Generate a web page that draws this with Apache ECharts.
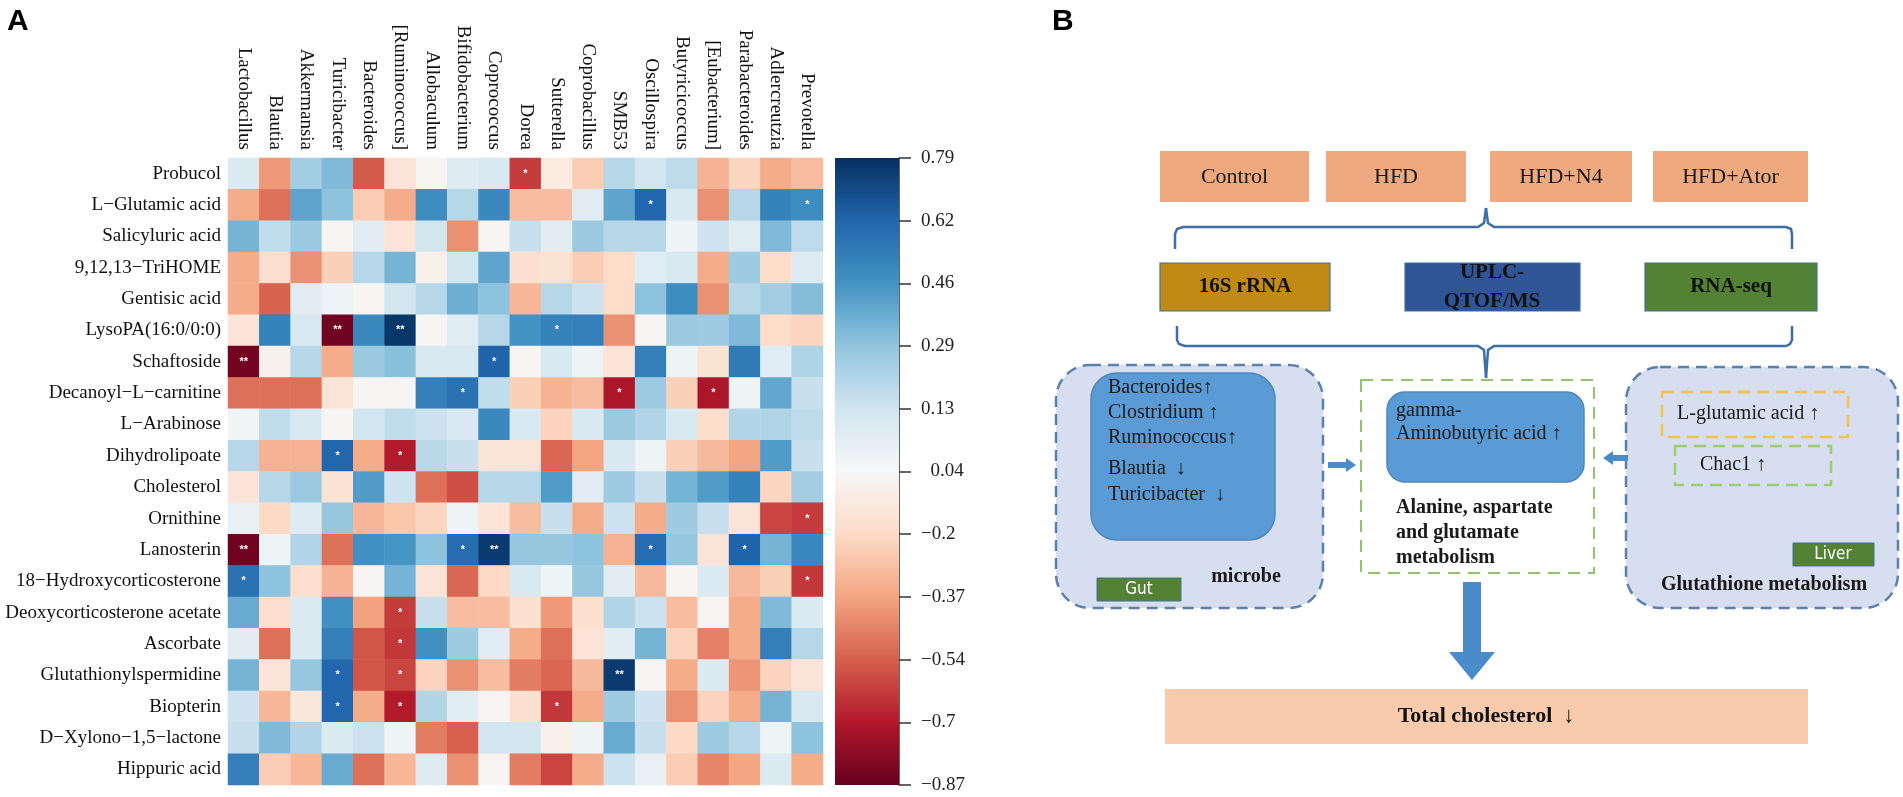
<!DOCTYPE html>
<html><head><meta charset="utf-8">
<script src="https://cdn.jsdelivr.net/npm/echarts@6/dist/echarts.min.js"></script>
<style>html,body{margin:0;padding:0;background:#fff}#c{width:1903px;height:797px}</style>
</head><body><div id="c"></div><script>
// ---------- DATA ----------
const genera = ['Lactobacillus','Blautia','Akkermansia','Turicibacter','Bacteroides','[Ruminococcus]','Allobaculum','Bifidobacterium','Coprococcus','Dorea','Sutterella','Coprobacillus','SMB53','Oscillospira','Butyricicoccus','[Eubacterium]','Parabacteroides','Adlercreutzia','Prevotella'];
const metabolites = ['Probucol','L−Glutamic acid','Salicyluric acid','9,12,13−TriHOME','Gentisic acid','LysoPA(16:0/0:0)','Schaftoside','Decanoyl−L−carnitine','L−Arabinose','Dihydrolipoate','Cholesterol','Ornithine','Lanosterin','18−Hydroxycorticosterone','Deoxycorticosterone acetate','Ascorbate','Glutathionylspermidine','Biopterin','D−Xylono−1,5−lactone','Hippuric acid'];
const corrRows = [
 [0.08,-0.4,0.25,0.33,-0.55,-0.15,-0.05,0.07,0.1,-0.62,-0.12,-0.25,0.2,0.12,0.18,-0.33,-0.22,-0.35,-0.3],
 [-0.35,-0.5,0.4,0.3,-0.25,-0.35,0.48,0.2,0.5,-0.3,-0.3,0.05,0.4,0.62,0.09,-0.42,0.2,0.52,0.48],
 [0.35,0.17,0.27,-0.05,0.05,-0.15,0.12,-0.42,-0.06,0.15,0.05,0.27,0.2,0.2,0.0,0.13,0.06,0.33,0.18],
 [-0.35,-0.18,-0.42,-0.24,0.2,0.35,-0.08,0.12,0.4,-0.17,-0.16,-0.25,-0.2,0.06,0.1,-0.35,0.26,-0.2,0.07],
 [-0.35,-0.53,0.05,0.0,-0.06,0.12,0.2,0.37,0.3,-0.32,0.2,0.14,-0.2,0.3,0.48,-0.42,0.2,0.25,0.32],
 [-0.15,0.52,0.1,-0.85,0.5,0.77,-0.05,0.06,0.2,0.46,0.52,0.53,-0.42,-0.05,0.27,0.26,0.33,-0.2,-0.22],
 [-0.84,-0.08,0.2,-0.35,0.27,0.31,0.1,0.1,0.63,-0.06,0.09,0.0,-0.15,0.53,0.0,-0.16,0.55,0.06,0.22],
 [-0.5,-0.5,-0.5,-0.15,-0.05,-0.05,0.53,0.58,0.17,-0.24,-0.33,-0.3,-0.72,0.26,-0.24,-0.72,0.0,0.39,0.15],
 [-0.02,0.17,0.09,-0.05,0.12,0.17,0.14,0.09,0.5,0.09,-0.23,0.09,0.27,0.21,0.09,-0.19,0.21,0.21,0.18],
 [0.2,-0.33,-0.33,0.62,-0.35,-0.7,0.19,0.15,-0.15,-0.15,-0.52,-0.37,0.09,0.0,-0.24,-0.31,-0.37,0.43,0.15],
 [-0.15,0.2,0.27,-0.16,0.43,0.13,-0.5,-0.58,0.2,0.2,0.43,0.05,0.26,0.15,0.35,0.43,0.52,-0.22,0.25],
 [0.02,-0.21,0.07,0.28,-0.32,-0.27,-0.22,0.0,-0.15,-0.3,0.15,-0.35,0.14,-0.35,0.26,0.15,-0.15,-0.6,-0.62],
 [-0.85,0.0,0.21,-0.5,0.47,0.45,0.3,0.6,0.76,0.28,0.28,0.3,-0.33,0.6,0.28,-0.15,0.63,0.35,0.5],
 [0.58,0.3,-0.18,-0.33,-0.06,0.35,-0.15,-0.52,-0.21,0.09,0.0,0.28,0.05,-0.31,-0.05,0.08,-0.31,-0.24,-0.63],
 [0.38,-0.18,0.08,0.47,-0.38,-0.62,0.15,-0.3,-0.3,-0.17,-0.4,-0.17,0.21,0.14,-0.3,-0.06,-0.35,0.33,0.08],
 [0.05,-0.5,0.08,0.53,-0.56,-0.63,0.47,0.26,0.05,-0.35,-0.5,-0.15,0.05,0.35,-0.23,-0.46,-0.35,0.53,0.2],
 [0.35,-0.15,0.28,0.62,-0.56,-0.6,-0.23,-0.42,-0.3,-0.47,-0.52,-0.31,0.76,-0.05,-0.35,0.08,-0.41,-0.23,-0.15],
 [0.13,-0.32,-0.13,0.62,-0.35,-0.7,0.21,0.05,-0.05,-0.17,-0.63,-0.35,0.26,0.13,-0.42,-0.23,-0.35,0.35,0.1],
 [0.15,0.33,0.21,0.08,0.14,0.0,-0.47,-0.54,0.12,0.12,-0.08,0.0,0.38,0.15,-0.21,0.26,0.2,0.0,0.3],
 [0.53,-0.25,-0.32,0.38,-0.5,-0.32,0.07,-0.42,-0.06,-0.47,-0.6,-0.35,0.14,0.02,-0.25,-0.45,-0.37,0.08,-0.35]
];
// significance marks: [rowIndex, colIndex, mark]
const sigMarks = [
 [0,9,'*'],[1,13,'*'],[1,18,'*'],[5,3,'**'],[5,5,'**'],[5,10,'*'],[6,0,'**'],[6,8,'*'],
 [7,7,'*'],[7,12,'*'],[7,15,'*'],[9,3,'*'],[9,5,'*'],[11,18,'*'],[12,0,'**'],[12,7,'*'],
 [12,8,'**'],[12,13,'*'],[12,16,'*'],[13,0,'*'],[13,18,'*'],[14,5,'*'],[15,5,'*'],
 [16,3,'*'],[16,5,'*'],[16,12,'**'],[17,3,'*'],[17,5,'*'],[17,10,'*']
];
const colorbarTicks = [-0.87,-0.7,-0.54,-0.37,-0.2,0.04,0.13,0.29,0.46,0.62,0.79];
const palette = ['#67001f','#b2182b','#d6604d','#f4a582','#fddbc7','#f7f7f7','#d1e5f0','#92c5de','#4393c3','#2166ac','#053061'];

// ---------- BUILD ----------
const heatData = [];
corrRows.forEach((row, r) => row.forEach((v, c) => heatData.push([c, r, v])));
const markMap = {};
sigMarks.forEach(m => { markMap[m[0] + '_' + m[1]] = m[2]; });

const SERIF = '"Liberation Serif","Times New Roman",serif';
const NARROW = '"Liberation Sans Narrow","DejaVu Sans Condensed","Liberation Sans",sans-serif';
const HM = {left: 228, top: 158, width: 595, height: 627};
const CB = {left: 835, top: 158, width: 64, height: 627};

function rect(x, y, w, h, fill, stroke, extra) {
  extra = extra || {};
  return {type: 'rect', z: extra.z || 10, shape: {x: x, y: y, width: w, height: h, r: extra.r || 0},
    style: {fill: fill, stroke: stroke || null, lineWidth: extra.lw || 1, lineDash: extra.dash || null}};
}
function text(x, y, t, font, extra) {
  extra = extra || {};
  return {type: 'text', z: extra.z || 20, x: x, y: y,
    style: {text: t, font: font, fill: extra.fill || '#1a1a1a', textAlign: extra.align || 'left',
      textVerticalAlign: 'middle', verticalAlign: 'middle', lineHeight: extra.lh || undefined}};
}
function poly(points, color, lw) {
  return {type: 'polyline', z: 12, shape: {points: points, smooth: 0}, style: {stroke: color, lineWidth: lw || 2.5, fill: null}};
}
function polygon(points, color) {
  return {type: 'polygon', z: 12, shape: {points: points}, style: {fill: color}};
}

const BR = '#3d6ea6';
const graphics = [
  text(7, 22, 'A', 'bold 30px "Liberation Sans",Arial,sans-serif', {fill: '#000'}),
  text(1052, 22, 'B', 'bold 30px "Liberation Sans",Arial,sans-serif', {fill: '#000'}),
  // group boxes
  rect(1160, 151, 149, 51, '#eea97f'), text(1234.5, 177, 'Control', '22px ' + SERIF, {align: 'center'}),
  rect(1326, 151, 140, 51, '#eea97f'), text(1396, 177, 'HFD', '22px ' + SERIF, {align: 'center'}),
  rect(1490, 151, 142, 51, '#eea97f'), text(1561, 177, 'HFD+N4', '22px ' + SERIF, {align: 'center'}),
  rect(1653, 151, 155, 51, '#eea97f'), text(1730.5, 177, 'HFD+Ator', '22px ' + SERIF, {align: 'center'}),
  // upper brace
  poly([[1175, 249], [1175, 234], [1177, 229], [1183, 227], [1478, 227], [1484, 223], [1486, 208]], BR),
  poly([[1486, 208], [1488, 223], [1494, 227], [1786, 227], [1791, 229], [1792, 234], [1792, 249]], BR),
  // method boxes
  rect(1160, 263, 170, 48, '#bf8b14', '#41719c', {lw: 1.2}), text(1245, 287, '16S rRNA', 'bold 21px ' + SERIF, {align: 'center', fill: '#111'}),
  rect(1405, 263, 175, 48, '#2f5597', '#41719c', {lw: 1.2}), text(1492, 287, 'UPLC-\nQTOF/MS', 'bold 21px ' + SERIF, {align: 'center', fill: '#111', lh: 29}),
  rect(1645, 263, 172, 48, '#548235', '#41719c', {lw: 1.2}), text(1731, 287, 'RNA-seq', 'bold 21px ' + SERIF, {align: 'center', fill: '#111'}),
  // lower brace
  poly([[1177, 326], [1177, 340], [1179, 344], [1185, 346], [1478, 346], [1484, 350], [1486, 378]], BR),
  poly([[1486, 378], [1488, 350], [1494, 346], [1786, 346], [1790, 344], [1792, 340], [1792, 326]], BR),
  // left microbe box
  rect(1056, 365, 267, 243, '#d6deef', '#5b80ae', {r: 34, lw: 2.5, dash: [11, 7], z: 5}),
  rect(1091, 373, 184, 167, '#5b9bd5', '#4f86bd', {r: 26, lw: 1.5, z: 8}),
  text(1108, 388, 'Bacteroides↑', '20px ' + SERIF),
  text(1108, 413, 'Clostridium ↑', '20px ' + SERIF),
  text(1108, 438, 'Ruminococcus↑', '20px ' + SERIF),
  text(1108, 469, 'Blautia  ↓', '20px ' + SERIF),
  text(1108, 495, 'Turicibacter  ↓', '20px ' + SERIF),
  rect(1097, 578, 84, 23, '#548235', '#41719c', {lw: 1}), text(1139, 590, 'Gut', '17px ' + NARROW, {align: 'center', fill: '#fff'}),
  text(1246, 577, 'microbe', 'bold 20px ' + SERIF, {align: 'center'}),
  // arrow right
  polygon([[1328, 462], [1346, 462], [1346, 458], [1356, 465], [1346, 472], [1346, 468], [1328, 468]], '#4a8cca'),
  // central metabolism box
  rect(1361, 380, 233, 193, '#ffffff', '#92c46f', {lw: 2, dash: [12, 8], z: 5}),
  rect(1387, 392, 197, 90, '#5b9bd5', '#4f86bd', {r: 18, lw: 1.5, z: 8}),
  text(1396, 411, 'gamma-', '20px ' + SERIF),
  text(1396, 434, 'Aminobutyric acid ↑', '20px ' + SERIF),
  text(1396, 508, 'Alanine, aspartate', 'bold 20px ' + SERIF),
  text(1396, 533, 'and glutamate', 'bold 20px ' + SERIF),
  text(1396, 558, 'metabolism', 'bold 20px ' + SERIF),
  // arrow left
  polygon([[1628, 455], [1613, 455], [1613, 451], [1603, 458], [1613, 465], [1613, 461], [1628, 461]], '#4a8cca'),
  // right liver box
  rect(1626, 367, 272, 241, '#d6deef', '#5b80ae', {r: 34, lw: 2.5, dash: [11, 7], z: 5}),
  rect(1662, 392, 186, 45, null, '#f3c247', {lw: 2.5, dash: [12, 7], z: 8}),
  text(1677, 414, 'L-glutamic acid ↑', '20px ' + SERIF),
  rect(1675, 446, 156, 39, null, '#9ccc6f', {lw: 2.5, dash: [12, 7], z: 8}),
  text(1700, 465, 'Chac1 ↑', '20px ' + SERIF),
  rect(1793, 543, 81, 23, '#548235', '#41719c', {lw: 1}), text(1833, 555, 'Liver', '17px ' + NARROW, {align: 'center', fill: '#fff'}),
  text(1764, 585, 'Glutathione metabolism', 'bold 20px ' + SERIF, {align: 'center'}),
  // down arrow
  polygon([[1463, 582], [1481, 582], [1481, 652], [1495, 652], [1472, 680], [1449, 652], [1463, 652]], '#4a8cca'),
  // total cholesterol
  rect(1165, 689, 643, 55, '#f8cbad'),
  text(1486, 716, 'Total cholesterol  ↓', 'bold 22px ' + SERIF, {align: 'center', fill: '#111'})
];

const cbGradient = new echarts.graphic.LinearGradient(0, 0, 0, 1,
  palette.slice().reverse().map((c, i) => ({offset: i / (palette.length - 1), color: c})));

const chart = echarts.init(document.getElementById('c'), null, {renderer: 'canvas'});
chart.setOption({
  animation: false,
  backgroundColor: '#ffffff',
  grid: [
    {left: HM.left, top: HM.top, width: HM.width, height: HM.height},
    {left: CB.left, top: CB.top, width: CB.width, height: CB.height}
  ],
  xAxis: [
    {type: 'category', gridIndex: 0, data: genera, position: 'top',
      axisLine: {show: false}, axisTick: {show: false}, splitArea: {show: false},
      axisLabel: {rotate: 90, margin: 8, interval: 0, fontFamily: SERIF, fontSize: 19, color: '#111'}},
    {type: 'category', gridIndex: 1, data: ['cb'], show: false}
  ],
  yAxis: [
    {type: 'category', gridIndex: 0, data: metabolites, inverse: true,
      axisLine: {show: false}, axisTick: {show: false},
      axisLabel: {margin: 7, interval: 0, fontFamily: SERIF, fontSize: 19, color: '#111'}},
    {type: 'value', gridIndex: 1, min: 0, max: 10, interval: 1, position: 'right',
      splitLine: {show: false},
      axisLine: {show: true, lineStyle: {color: '#333', width: 1.5}},
      axisTick: {show: true, length: 12, lineStyle: {color: '#333', width: 1.5}},
      axisLabel: {margin: 22, fontFamily: SERIF, fontSize: 19, color: '#222',
        formatter: v => { const t = colorbarTicks[Math.round(v)]; const s = String(t).replace('-', '−'); return t === 0.04 ? '  ' + s : s; }}}
  ],
  visualMap: {type: 'continuous', show: false, seriesIndex: 0, dimension: 2, min: -0.87, max: 0.79, inRange: {color: palette}},
  series: [
    {type: 'heatmap', xAxisIndex: 0, yAxisIndex: 0, data: heatData,
      itemStyle: {borderWidth: 0},
      emphasis: {disabled: true},
      label: {show: true, color: '#fff', fontSize: 11, fontWeight: 'bold',
        formatter: p => markMap[p.value[1] + '_' + p.value[0]] || ''}},
    {type: 'bar', xAxisIndex: 1, yAxisIndex: 1, data: [10], barWidth: '100%', silent: true,
      itemStyle: {color: cbGradient}}
  ],
  graphic: graphics
});
</script></body></html>
